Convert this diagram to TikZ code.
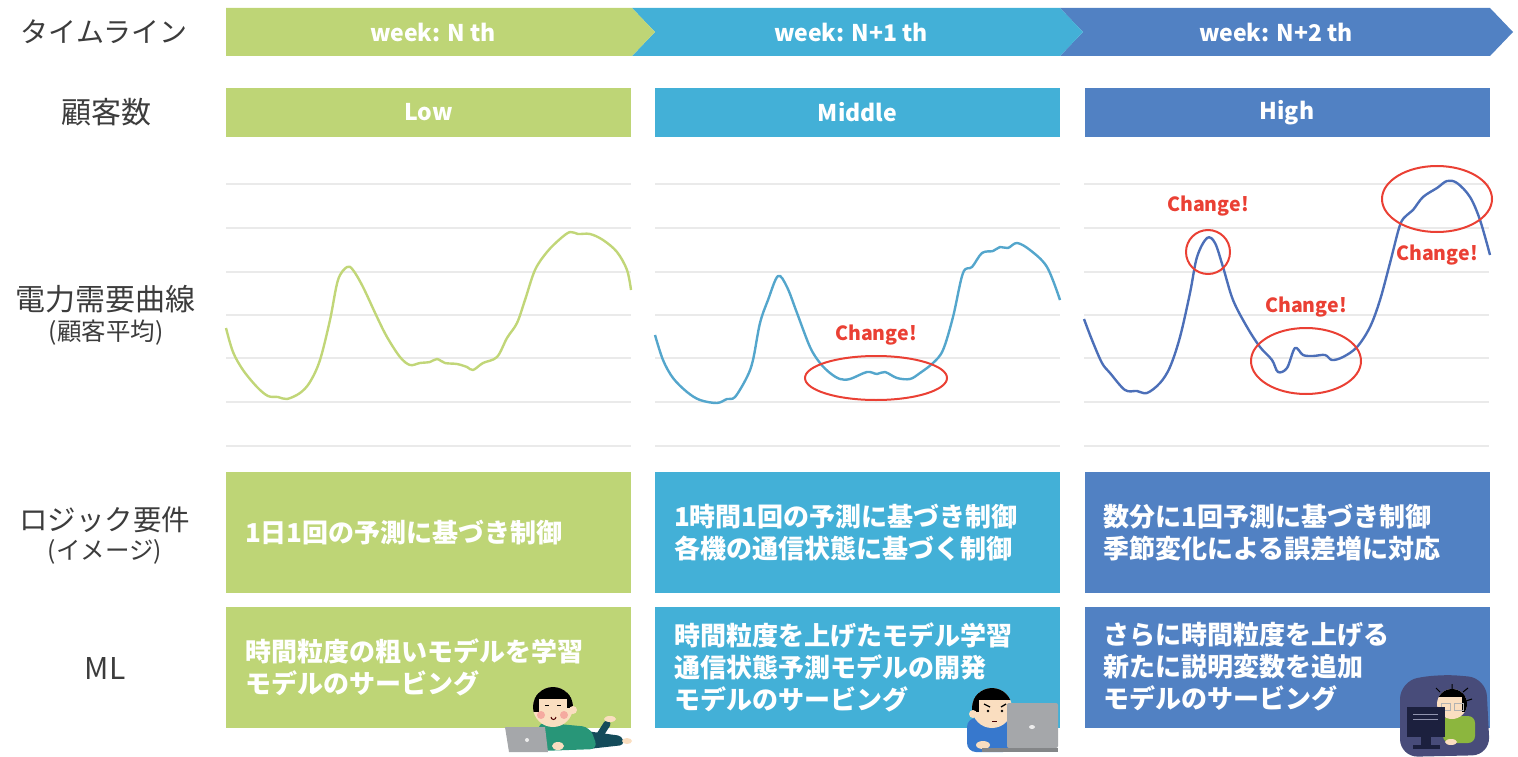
\documentclass[tikz,border=0pt]{standalone}
\usepackage{fontspec}
\setmainfont{Noto Sans CJK JP}
\usetikzlibrary{positioning}

\definecolor{wkgreen}{RGB}{190,213,118}
\definecolor{wkblue}{RGB}{67,176,215}
\definecolor{wkdark}{RGB}{81,129,195}
\definecolor{crvgreen}{RGB}{193,214,120}
\definecolor{crvblue}{RGB}{84,166,204}
\definecolor{crvdark}{RGB}{76,111,184}
\definecolor{alert}{RGB}{234,64,52}
\definecolor{labelgray}{RGB}{60,60,60}
\definecolor{gridgray}{RGB}{234,234,234}
\definecolor{skin}{RGB}{250,222,192}
\definecolor{cheek}{RGB}{245,170,160}
\definecolor{pcgray}{RGB}{165,167,170}
\definecolor{shirtteal}{RGB}{40,150,120}
\definecolor{legteal}{RGB}{20,75,90}
\definecolor{shirtblue}{RGB}{55,120,205}
\definecolor{nightblob}{RGB}{72,76,122}
\definecolor{shirtlime}{RGB}{140,182,62}
\definecolor{screennavy}{RGB}{28,32,62}

\tikzset{
  rowlabel/.style={text=labelgray, font=\fontsize{30}{34}\selectfont},
  sublabel/.style={text=labelgray, font=\fontsize{24.5}{28}\selectfont},
  weektext/.style={text=white, font=\bfseries\fontsize{23}{26}\selectfont},
  levelbox/.style={minimum width=405pt, minimum height=49pt, inner sep=0pt,
    text=white, font=\bfseries\fontsize{23}{26}\selectfont},
  taskbox/.style={minimum width=405pt, minimum height=121pt, text width=367pt,
    inner xsep=19pt, align=left, text=white,
    font=\bfseries\fontsize{26}{32}\selectfont},
  demand/.style={line width=2.4pt, line join=round},
  change/.style={text=alert, font=\bfseries\fontsize{19.5}{22}\selectfont},
  ring/.style={draw=alert, line width=2pt},
}

\begin{document}
\begin{tikzpicture}[x=1pt,y=-1pt]
  \useasboundingbox (0,0) rectangle (1518,757);

  %% row labels
  \node[rowlabel, font=\fontsize{28}{32}\selectfont] (tl) at (104,32) {タイムライン};
  \node[rowlabel] (cust) at (106,112) {顧客数};
  \node[rowlabel] (curve) at (106,299) {電力需要曲線};
  \node[sublabel] (curvesub) at (106,333) {(顧客平均)};
  \node[rowlabel, font=\fontsize{28.5}{32}\selectfont] (logic) at (105,520) {ロジック要件};
  \node[sublabel] (logicsub) at (105,552) {(イメージ)};
  \node[rowlabel] (ml) at (105,668) {ML};

  %% timeline, drawn back to front so each tip sits in the next notch
  \fill[wkdark] (1060,8) -- (1490,8) -- (1513,32) -- (1490,56) -- (1060,56) -- (1083,32) -- cycle;
  \fill[wkblue] (632,8) -- (1060,8) -- (1083,32) -- (1060,56) -- (632,56) -- (655,32) -- cycle;
  \fill[wkgreen] (226,8) -- (632,8) -- (655,32) -- (632,56) -- (226,56) -- cycle;
  \node[weektext] (wk0) at (433,32) {week: N th};
  \node[weektext] (wk1) at (851,32) {week: N+1 th};
  \node[weektext] (wk2) at (1276,32) {week: N+2 th};

  %% customers
  \node[levelbox, fill=wkgreen] (low) at (428.5,112.5) {Low};
  \node[levelbox, fill=wkblue] (mid) at (857.5,112.5) {Middle};
  \node[levelbox, fill=wkdark] (high) at (1287,112.5) {High};

  %% grid behind the curves
  \foreach \px in {226,655,1084}
    \foreach \gy in {184,228,272,315,358,402,446}
      \draw[gridgray, line width=1.8pt] (\px,\gy) -- ++(405,0);

  \draw[demand, crvgreen] plot[smooth, tension=0.55] coordinates {
    (226,328) (233,352) (243,370) (257,387) (268,396) (278,397) (287,399)
    (300,393) (310,382) (320,360) (330,320) (338,280) (347,267) (353,270)
    (363,287) (377,317) (387,337) (400,357) (410,365) (420,363) (430,362)
    (437,359) (445,363) (457,364) (467,367) (473,370) (483,363) (497,357)
    (507,338) (517,323) (525,300) (535,270) (547,252) (560,239) (570,232)
    (578,234) (590,234) (603,240) (617,252) (627,270) (631,290)};

  \draw[demand, crvblue] plot[smooth, tension=0.55] coordinates {
    (655,335) (663,360) (673,378) (687,392) (700,400) (717,403) (727,399)
    (735,397) (747,377) (753,360) (760,323) (768,300) (778,276) (787,287)
    (797,313) (810,347) (820,363) (830,373) (840,379) (850,379) (867,372)
    (877,374) (885,372) (897,378) (910,379) (920,373) (933,363) (943,350)
    (953,317) (963,273) (972,267) (982,253) (993,251) (1000,247) (1008,248)
    (1017,243) (1030,250) (1047,267) (1060,300)};

  \draw[demand, crvdark] plot[smooth, tension=0.55] coordinates {
    (1084,319) (1092,340) (1102,363) (1110,373) (1125,390) (1137,391)
    (1147,393) (1160,383) (1170,367) (1180,337) (1190,293) (1197,257)
    (1207,238) (1215,243) (1223,267) (1233,300) (1247,327) (1260,347)
    (1272,360) (1278,372) (1287,368) (1295,348) (1303,355) (1313,356)
    (1325,355) (1332,360) (1343,357) (1357,347) (1370,327) (1380,300)
    (1390,263) (1400,225) (1407,215) (1413,210) (1423,197) (1437,188)
    (1447,181) (1457,183) (1470,197) (1480,220) (1490,255)};

  %% marked changes
  \draw[ring] (876,378) ellipse [x radius=71pt, y radius=22pt];
  \node[change] (chg1) at (876,335) {Change!};
  \draw[ring] (1208,252) ellipse [x radius=22pt, y radius=22pt];
  \node[change] (chg2) at (1208,206) {Change!};
  \draw[ring] (1306,361) ellipse [x radius=55pt, y radius=33pt];
  \node[change] (chg3) at (1306,307) {Change!};
  \draw[ring] (1437,199) ellipse [x radius=55pt, y radius=33pt];
  \node[change] (chg4) at (1437,255) {Change!};

  %% logic requirements
  \node[taskbox, fill=wkgreen] (lg0) at (428.5,532.5) {1日1回の予測に基づき制御};
  \node[taskbox, fill=wkblue] (lg1) at (857.5,532.5) {1時間1回の予測に基づき制御\\各機の通信状態に基づく制御};
  \node[taskbox, fill=wkdark] (lg2) at (1287,532.5) {数分に1回予測に基づき制御\\季節変化による誤差増に対応};

  %% ML tasks
  \node[taskbox, fill=wkgreen] (ml0) at (428.5,667) {時間粒度の粗いモデルを学習\\モデルのサービング};
  \node[taskbox, fill=wkblue] (ml1) at (857.5,667) {時間粒度を上げたモデル学習\\通信状態予測モデルの開発\\モデルのサービング};
  \node[taskbox, fill=wkdark] (ml2) at (1287,667) {さらに時間粒度を上げる\\新たに説明変数を追加\\モデルのサービング};

  %% relaxed boy on the floor
  \fill[legteal, rounded corners=4pt] (586,731) -- (622,736) -- (624,745) -- (588,749) -- cycle;
  \draw[legteal, line width=7pt, line cap=round] (598,738) -- (607,724);
  \fill[skin] (610,719) ellipse [x radius=6pt, y radius=3pt];
  \fill[skin] (627,741) ellipse [x radius=5pt, y radius=3pt];
  \fill[shirtteal, rounded corners=8pt] (538,722) -- (590,727) -- (598,749) -- (540,751) -- cycle;
  \fill[skin] (553,707) circle (20pt);
  \begin{scope}
    \clip (553,707) circle (20pt);
    \fill[black] (532,685) rectangle (575,699);
    \fill[black] (532,685) rectangle (539,712);
    \fill[black] (567,685) rectangle (575,708);
  \end{scope}
  \fill[skin] (573,710) circle (4pt);
  \fill[cheek] (541,715) circle (4pt);
  \fill[cheek] (564,715) circle (4pt);
  \draw[black, line width=1pt] (545,705) -- (549,705) (557,705) -- (561,705);
  \draw[black!70!red, line width=1pt] (551,717) arc [start angle=180, end angle=360, radius=2.5pt];
  \fill[pcgray] (505,727) -- (545,727) -- (548,752) -- (509,752) -- cycle;
  \fill[white!85!gray] (527,740) circle (2pt);
  \fill[skin] (558,746) ellipse [x radius=6pt, y radius=4pt];

  %% focused boy behind the laptop
  \fill[shirtblue, rounded corners=9pt] (967,718) rectangle (1012,752);
  \fill[skin] (992,708) circle (20pt);
  \begin{scope}
    \clip (992,708) circle (20pt);
    \fill[black] (970,686) rectangle (1014,700);
    \fill[black] (970,686) rectangle (979,712);
  \end{scope}
  \fill[skin] (973,714) circle (4pt);
  \draw[black, line width=1.3pt] (984,704) -- (990,707) (1001,707) -- (1006,704);
  \fill[black] (988,711) circle (1.3pt) (1002,711) circle (1.3pt);
  \draw[black!70!red, line width=1pt] (992,721) -- (997,721);
  \fill[skin] (983,745) ellipse [x radius=7pt, y radius=4pt];
  \fill[pcgray, rounded corners=2pt] (1007,703) rectangle (1058,748);
  \fill[pcgray!80!black] (982,748) rectangle (1058,752);
  \fill[white!85!gray] (1032,727) ellipse [x radius=3pt, y radius=2pt];

  %% late night at the monitor
  \fill[nightblob, rounded corners=18pt] (1400,681) -- (1440,674) -- (1486,678) -- (1490,755) -- (1400,757) -- cycle;
  \fill[shirtlime, rounded corners=7pt] (1443,716) rectangle (1475,743);
  \fill[skin] (1452,704) circle (15pt);
  \begin{scope}
    \clip (1452,704) circle (15pt);
    \fill[black] (1435,687) rectangle (1469,697);
    \fill[black] (1462,687) rectangle (1469,712);
  \end{scope}
  \draw[black, line width=1pt] (1440,692) -- (1436,688) (1452,690) -- (1452,684)
    (1463,692) -- (1468,688) (1466,701) -- (1472,699);
  \draw[gray!60, line width=1pt] (1441,703) rectangle (1450,710) (1454,703) rectangle (1463,710);
  \fill[screennavy] (1407,707) rectangle (1445,737);
  \draw[nightblob!60, line width=1pt] (1413,714) -- (1438,714) (1413,719) -- (1438,719);
  \fill[screennavy] (1421,737) rectangle (1431,745);
  \fill[screennavy] (1413,745) rectangle (1440,749);
  \fill[skin] (1451,742) ellipse [x radius=6pt, y radius=3pt];
\end{tikzpicture}
\end{document}
